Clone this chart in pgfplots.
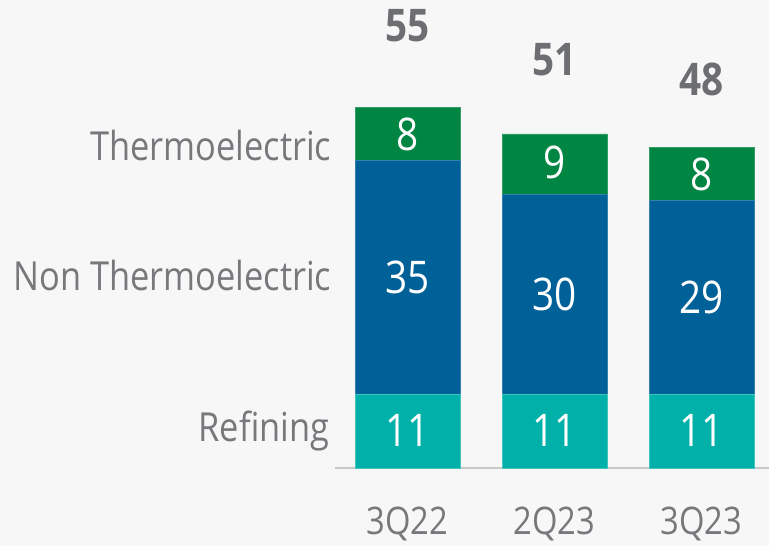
\documentclass[border=0pt]{standalone}
\usepackage{fontspec}
\setmainfont{Open Sans}[FakeStretch=0.86]
\usepackage{pgfplots}
\pgfplotsset{compat=1.18}
\definecolor{cgreen}{RGB}{0,133,66}
\definecolor{cblue}{RGB}{0,96,152}
\definecolor{cteal}{RGB}{0,176,169}
\definecolor{ctext}{RGB}{119,120,123}
\definecolor{ctot}{RGB}{109,110,113}
\definecolor{bg}{RGB}{247,247,247}
\definecolor{cline}{RGB}{200,200,200}
\begin{document}
\begin{tikzpicture}[x=1bp,y=1bp]
\fill[bg] (0,0) rectangle (769,546);
\useasboundingbox (0,0) rectangle (769,546);
\pgfplotsset{myax/.style={scale only axis, width=434bp, height=468bp,
  at={(335bp,78bp)}, anchor=south west,
  xmin=-0.4932, xmax=2.4592, ymin=0, ymax=70.06, clip=false}}
\begin{axis}[myax, ybar stacked, bar width=105bp,
  axis x line*=bottom, axis y line=none,
  x axis line style={draw=cline, line width=2bp, -},
  xtick={0,1,2}, xticklabels={3Q22,2Q23,3Q23}, major tick length=0pt,
  ytick=\empty,
  xticklabel style={anchor=base, yshift=-67bp, text=ctext, font=\fontsize{38bp}{44bp}\selectfont}]
\addplot[fill=cteal, draw=cteal!75!white, line width=0.6bp] coordinates {(0,11) (1,11) (2,11)};
\addplot[fill=cblue, draw=cblue!80!white, line width=0.6bp] coordinates {(0,35) (1,30) (2,29)};
\addplot[fill=cgreen, draw=cgreen!80!white, line width=0.6bp] coordinates {(0,8) (1,9) (2,8)};
\end{axis}
\begin{axis}[myax, hide axis]
% segment values
\addplot[draw=none, mark=none, nodes near coords, point meta=explicit symbolic,
  every node near coord/.append style={text=white, anchor=center, inner sep=0pt,
  font=\fontsize{45bp}{54bp}\selectfont}]
  coordinates {(0,5.69)[11] (1,5.69)[11] (2,5.69)[11]
               (0,28.5)[35] (1,26.05)[30] (2,25.6)[29]
               (0,50.0)[8] (1,45.7)[9] (2,43.9)[8]};
% totals
\addplot[draw=none, mark=none, nodes near coords, point meta=explicit symbolic,
  every node near coord/.append style={text=ctot, anchor=center, inner sep=0pt,
  font=\fontsize{45bp}{54bp}\selectfont\bfseries}]
  coordinates {(0,66.2)[55] (1,61.1)[51] (2,58.1)[48]};
% category labels
\addplot[draw=none, mark=none, nodes near coords, point meta=explicit symbolic,
  every node near coord/.append style={text=ctext, anchor=base east, inner sep=0pt,
  font=\fontsize{40bp}{46bp}\selectfont}]
  coordinates {(-0.517,45.96)[Thermoelectric] (-0.517,26.54)[Non Thermoelectric] (-0.53,3.94)[Refining]};
\end{axis}
\end{tikzpicture}
\end{document}
